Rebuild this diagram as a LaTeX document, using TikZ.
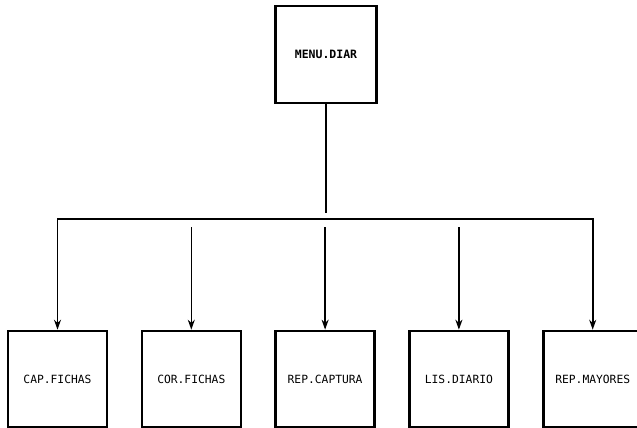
\documentclass[tikz,border=0pt]{standalone}
\usepackage{fontspec}
\setmonofont{DejaVu Sans Mono}
\usepackage{tikz}
\usetikzlibrary{positioning, arrows.meta}

\tikzset{
  modbox/.style={draw, line width=2.6pt, minimum width=99pt, minimum height=96pt,
    inner sep=0pt, font=\ttfamily\fontsize{11.3}{13}\selectfont},
  link/.style={line width=1.6pt},
}

\begin{document}
\begin{tikzpicture}[x=1pt, y=-1pt, >={Stealth[length=10pt, width=7pt]}]
  \useasboundingbox (0,0) rectangle (637,428);

  \node[modbox, minimum width=101pt, minimum height=97pt, font=\ttfamily\bfseries\fontsize{11.5}{13}\selectfont] (menu) at (326,54.5) {MENU.DIAR};

  \node[modbox] (cap) at (57.5,379) {CAP.FICHAS};
  \node[modbox, right=32.2pt of cap] (cor) {COR.FICHAS};
  \node[modbox, right=32.2pt of cor] (repcap) {REP.CAPTURA};
  \node[modbox, right=32.2pt of repcap] (lis) {LIS.DIARIO};
  \node[modbox, right=32.2pt of lis] (repmay) {REP.MAYORES};

  \coordinate (bar) at (0,219);

  \draw[link, shorten >=6pt] (menu.south) -- (menu.south |- bar);
  \draw[link, <->] (cap.north) -- (cap.north |- bar) -- (repmay.north |- bar) -- (repmay.north);
  \draw[link, ->, shorten <=8pt] (cor.north |- bar) -- (cor.north);
  \draw[link, ->, shorten <=8pt] (repcap.north |- bar) -- (repcap.north);
  \draw[link, ->, shorten <=8pt] (lis.north |- bar) -- (lis.north);
\end{tikzpicture}
\end{document}
